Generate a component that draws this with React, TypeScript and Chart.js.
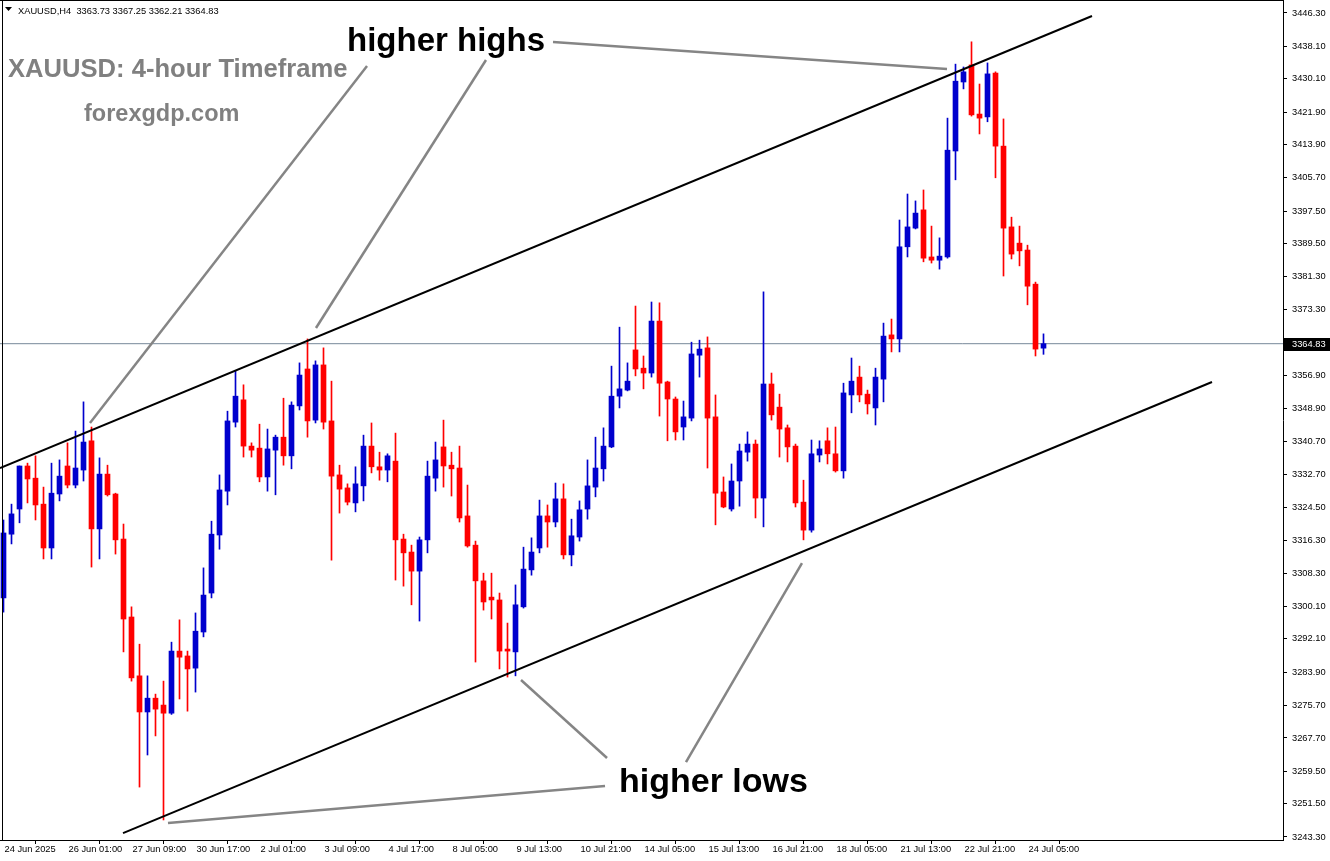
import { useEffect, useRef } from 'react';
import { Chart, registerables } from 'chart.js';

Chart.register(...registerables);

// ---- OHLC data (XAUUSD, H4) ----
const opens = [
  3302.2, 3317.9, 3324.1, 3334.7, 3331.7, 3325.3, 3314.5, 3327.8, 3334.7, 3330.0,
  3333.7, 3340.9, 3319.2, 3332.7, 3327.8, 3316.7, 3297.5, 3283.0, 3274.1, 3277.5,
  3275.8, 3273.8, 3289.1, 3287.9, 3284.9, 3293.8, 3303.4, 3317.7, 3328.5, 3345.5,
  3351.0, 3339.6, 3339.1, 3332.0, 3338.6, 3341.8, 3337.2, 3349.5, 3358.6, 3346.0,
  3359.6, 3345.8, 3332.5, 3329.3, 3325.6, 3329.8, 3339.6, 3334.5, 3333.7, 3335.9,
  3316.7, 3313.5, 3308.8, 3316.5, 3331.7, 3339.4, 3334.9, 3334.2, 3322.4, 3315.2,
  3306.4, 3302.4, 3301.7, 3289.6, 3288.9, 3300.0, 3309.1, 3314.5, 3322.4, 3320.9,
  3326.6, 3312.8, 3317.2, 3324.1, 3329.5, 3334.0, 3339.4, 3351.9, 3353.4, 3363.3,
  3358.8, 3357.6, 3370.4, 3355.4, 3351.2, 3344.3, 3346.5, 3362.0, 3363.8, 3346.8,
  3328.3, 3324.1, 3331.0, 3338.1, 3340.1, 3326.8, 3354.9, 3349.2, 3344.1, 3339.6,
  3325.8, 3318.9, 3337.4, 3340.9, 3337.7, 3333.5, 3352.2, 3356.6, 3352.4, 3349.0,
  3356.1, 3367.0, 3366.0, 3388.7, 3393.3, 3397.8, 3386.2, 3385.4, 3386.2, 3412.3,
  3429.3, 3433.5, 3421.4, 3420.7, 3431.5, 3413.5, 3393.6, 3389.6, 3387.9, 3379.5,
  3363.73,
];
const highs = [
  3321.4, 3325.3, 3334.7, 3335.4, 3337.2, 3329.5, 3335.4, 3336.2, 3340.4, 3343.3,
  3350.5, 3344.3, 3336.7, 3334.9, 3328.0, 3320.4, 3300.0, 3290.8, 3283.0, 3278.5,
  3281.7, 3291.3, 3296.8, 3289.1, 3298.5, 3309.6, 3321.1, 3332.5, 3348.2, 3358.1,
  3354.7, 3340.4, 3345.0, 3343.8, 3342.3, 3351.4, 3350.5, 3360.1, 3366.0, 3360.6,
  3363.8, 3355.6, 3334.9, 3330.3, 3334.5, 3342.3, 3345.3, 3338.1, 3337.7, 3342.8,
  3317.9, 3315.2, 3317.2, 3335.9, 3340.6, 3346.0, 3338.1, 3339.6, 3330.0, 3316.2,
  3308.3, 3308.3, 3303.4, 3296.0, 3305.4, 3314.7, 3317.0, 3326.3, 3325.1, 3330.5,
  3330.3, 3321.6, 3326.1, 3336.2, 3341.8, 3344.1, 3359.3, 3368.9, 3360.1, 3374.1,
  3361.8, 3375.1, 3374.9, 3355.6, 3351.7, 3350.7, 3365.2, 3365.7, 3366.5, 3352.2,
  3332.0, 3335.2, 3340.1, 3343.1, 3341.1, 3377.6, 3357.6, 3352.4, 3344.8, 3340.1,
  3331.2, 3341.1, 3340.9, 3344.1, 3344.3, 3355.1, 3361.3, 3359.3, 3353.4, 3358.8,
  3369.9, 3370.9, 3395.3, 3401.7, 3400.0, 3402.7, 3393.8, 3390.9, 3420.4, 3433.7,
  3433.0, 3439.2, 3428.8, 3434.0, 3431.8, 3420.2, 3396.0, 3393.8, 3389.1, 3380.0,
  3367.25,
];
const lows = [
  3298.7, 3315.5, 3320.7, 3325.6, 3321.4, 3311.8, 3311.8, 3326.1, 3329.3, 3329.3,
  3331.0, 3309.8, 3311.8, 3327.3, 3313.0, 3288.9, 3281.7, 3255.6, 3263.5, 3268.2,
  3247.5, 3273.5, 3277.3, 3274.3, 3279.0, 3292.6, 3302.2, 3314.2, 3325.1, 3344.3,
  3336.9, 3336.9, 3330.8, 3328.5, 3327.6, 3334.9, 3334.0, 3348.5, 3341.8, 3345.3,
  3343.8, 3311.5, 3323.1, 3325.1, 3323.4, 3326.1, 3333.0, 3331.2, 3330.8, 3306.6,
  3305.1, 3300.5, 3296.5, 3313.3, 3328.5, 3329.5, 3327.3, 3320.9, 3314.7, 3286.4,
  3299.2, 3297.0, 3284.7, 3282.7, 3283.0, 3299.7, 3307.8, 3313.3, 3314.7, 3319.7,
  3311.8, 3310.1, 3316.2, 3321.6, 3327.1, 3331.0, 3339.2, 3349.0, 3353.2, 3356.9,
  3353.7, 3356.6, 3347.0, 3340.9, 3341.1, 3341.1, 3345.8, 3356.6, 3334.2, 3320.2,
  3324.4, 3323.6, 3324.8, 3335.9, 3321.9, 3319.7, 3346.0, 3336.9, 3335.7, 3324.6,
  3316.5, 3318.4, 3335.7, 3335.2, 3333.2, 3331.7, 3347.8, 3350.5, 3347.5, 3344.8,
  3350.5, 3362.8, 3362.8, 3386.2, 3393.1, 3385.0, 3384.7, 3383.2, 3385.9, 3405.2,
  3427.6, 3420.9, 3416.5, 3419.5, 3405.7, 3381.5, 3385.7, 3384.0, 3374.4, 3361.8,
  3362.21,
];
const closes = [
  3318.2, 3322.9, 3334.7, 3331.5, 3325.1, 3314.5, 3328.0, 3332.2, 3330.0, 3334.2,
  3340.6, 3319.2, 3332.7, 3327.6, 3316.5, 3297.0, 3282.5, 3274.1, 3277.5, 3274.8,
  3273.8, 3289.1, 3287.6, 3284.7, 3294.0, 3302.9, 3317.9, 3328.8, 3345.8, 3351.9,
  3339.6, 3338.6, 3332.0, 3338.9, 3341.8, 3337.2, 3349.7, 3357.1, 3345.8, 3359.6,
  3345.5, 3332.2, 3329.0, 3325.8, 3330.3, 3339.6, 3334.5, 3333.7, 3337.2, 3316.5,
  3313.3, 3308.8, 3316.5, 3332.2, 3336.2, 3334.7, 3334.0, 3321.9, 3315.0, 3306.4,
  3301.2, 3301.7, 3289.1, 3289.1, 3300.5, 3309.3, 3313.5, 3322.4, 3320.9, 3326.6,
  3312.8, 3317.5, 3323.9, 3329.8, 3334.2, 3339.6, 3351.9, 3353.7, 3355.6, 3358.6,
  3357.6, 3370.4, 3355.1, 3351.2, 3343.1, 3346.8, 3362.3, 3363.5, 3346.5, 3328.0,
  3324.6, 3331.0, 3338.4, 3340.1, 3326.8, 3354.9, 3347.3, 3343.8, 3339.4, 3325.6,
  3318.9, 3337.7, 3338.9, 3337.7, 3333.5, 3352.7, 3355.6, 3352.2, 3350.0, 3356.6,
  3366.7, 3366.0, 3388.7, 3393.6, 3397.0, 3385.9, 3385.4, 3386.4, 3412.5, 3429.5,
  3431.8, 3421.2, 3420.4, 3431.3, 3413.5, 3393.3, 3386.9, 3387.7, 3379.0, 3363.5,
  3364.83,
];

const lastPrice = 3364.83;
const headerText = 'XAUUSD,H4  3363.73 3367.25 3362.21 3364.83';

// ---- axes ----
const yTickValues = [
  3446.3, 3438.1, 3430.1, 3421.9, 3413.9, 3405.7, 3397.5, 3389.5, 3381.3, 3373.3,
  3356.9, 3348.9, 3340.7, 3332.7, 3324.5, 3316.3, 3308.3, 3300.1, 3292.1, 3283.9,
  3275.7, 3267.7, 3259.5, 3251.5, 3243.3,
];
const xTickIndex = [0, 8, 16, 24, 32, 40, 48, 56, 64, 72, 80, 88, 96, 104, 112, 120, 128];
const xTickLabels = [
  '24 Jun 2025', '26 Jun 01:00', '27 Jun 09:00', '30 Jun 17:00', '2 Jul 01:00', '3 Jul 09:00',
  '4 Jul 17:00', '8 Jul 05:00', '9 Jul 13:00', '10 Jul 21:00', '14 Jul 05:00', '15 Jul 13:00',
  '16 Jul 21:00', '18 Jul 05:00', '21 Jul 13:00', '22 Jul 21:00', '24 Jul 05:00',
];

// ---- drawn trend lines: [bar index, price] ----
const channelUpper = [[-0.4375, 3334.2], [136.06, 3445.56]];
const channelLower = [[14.94, 3244.27], [151.06, 3355.39]];
const pointerLines = [
  [[45.44, 3433.24], [10.81, 3345.29]],
  [[60.31, 3434.72], [39.06, 3368.69]],
  [[68.69, 3439.16], [117.94, 3432.5]],
  [[75.44, 3262.75], [64.69, 3281.97]],
  [[85.31, 3261.77], [99.81, 3310.79]],
  [[75.19, 3255.85], [20.56, 3246.74]],
];

const X_MIN = -0.4375;
const X_MAX = 159.9375;
const Y_MIN = 3242.56;
const Y_MAX = 3449.5;

const BULL = '#0000cd';
const BEAR = '#ff0000';

const AXIS_FONT = { family: "'Liberation Sans', Arial, sans-serif", size: 9.3 };

export default function App() {
  const ref = useRef<HTMLCanvasElement>(null);

  useEffect(() => {
    const axisFont = AXIS_FONT;
    const idx = opens.map((_, i) => i);
    const colors = idx.map((i) => (closes[i] >= opens[i] ? BULL : BEAR));
    const toPts = (arr: number[][]) => arr.map((p) => ({ x: p[0], y: p[1] }));

    const lineDs = (pts: number[][], color: string, width: number, order: number) => ({
      type: 'line' as const,
      data: toPts(pts),
      borderColor: color,
      borderWidth: width,
      pointRadius: 0,
      fill: false,
      tension: 0,
      order,
    });

    const overlay = {
      id: 'overlay',
      afterDraw(chart: any) {
        const ctx = chart.ctx as CanvasRenderingContext2D;
        const area = chart.chartArea;
        const ys = chart.scales.y;
        ctx.save();
        // frame
        ctx.fillStyle = '#000';
        ctx.fillRect(2, 0, 1, area.bottom);
        ctx.fillRect(0, 0, area.right, 1);

        // header
        ctx.beginPath();
        ctx.moveTo(5, 7);
        ctx.lineTo(12, 7);
        ctx.lineTo(8.5, 11);
        ctx.closePath();
        ctx.fill();
        ctx.font = `${axisFont.size}px ${axisFont.family}`;
        ctx.textBaseline = 'alphabetic';
        ctx.textAlign = 'left';
        ctx.fillText(headerText, 18, 14);

        // annotation texts
        const big = "'Liberation Sans', Arial, sans-serif";
        ctx.fillStyle = '#000';
        ctx.font = `bold 33px ${big}`;
        ctx.fillText('higher highs', 347, 51);
        ctx.font = `bold 34px ${big}`;
        ctx.fillText('higher lows', 619, 792);
        ctx.fillStyle = '#808080';
        ctx.font = `bold 25.6px ${big}`;
        ctx.fillText('XAUUSD: 4-hour Timeframe', 8, 77);
        ctx.font = `bold 23.5px ${big}`;
        ctx.fillText('forexgdp.com', 84, 121);

        // last price label
        const py = Math.round(ys.getPixelForValue(lastPrice));
        ctx.fillStyle = '#000';
        ctx.fillRect(area.right + 1, py - 6, chart.width - area.right - 1, 13);
        ctx.fillRect(area.right, py, 4, 1);
        ctx.fillStyle = '#fff';
        ctx.font = `${axisFont.size}px ${axisFont.family}`;
        ctx.textBaseline = 'middle';
        ctx.fillText(lastPrice.toFixed(2), area.right + 9, py + 0.5);
        ctx.restore();
      },
    };

    const chart = new Chart(ref.current!, {
      type: 'bar',
      data: {
        datasets: [
          {
            type: 'bar',
            label: 'body',
            data: idx.map((i) => ({ x: i, y: [opens[i], closes[i]] })) as any,
            backgroundColor: colors,
            borderWidth: 0,
            barThickness: 5,
            minBarLength: 1,
            grouped: false,
            order: 2,
          },
          {
            type: 'bar',
            label: 'wick',
            data: idx.map((i) => ({ x: i, y: [lows[i], highs[i]] })) as any,
            backgroundColor: colors,
            borderWidth: 0,
            barThickness: 1,
            minBarLength: 1,
            grouped: false,
            order: 3,
          },
          lineDs([[X_MIN, lastPrice], [X_MAX, lastPrice]], '#778899', 1, 4) as any,
          lineDs(channelUpper, '#000', 2, 1) as any,
          lineDs(channelLower, '#000', 2, 1) as any,
          ...pointerLines.map((l) => lineDs(l, '#858585', 2.5, 0) as any),
        ],
      },
      options: {
        responsive: false,
        animation: false,
        events: [],
        layout: { padding: 0 },
        plugins: { legend: { display: false }, tooltip: { enabled: false } },
        scales: {
          x: {
            type: 'linear',
            position: 'bottom',
            min: X_MIN,
            max: X_MAX,
            offset: false,
            grid: { display: true, drawOnChartArea: false, drawTicks: true, tickLength: 4, tickColor: '#000', color: '#000' },
            border: { display: true, color: '#000', width: 1 },
            ticks: {
              autoSkip: false,
              maxRotation: 0,
              minRotation: 0,
              align: 'start',
              labelOffset: 1,
              padding: 0,
              color: '#000',
              font: { family: axisFont.family, size: axisFont.size },
              callback: (_v: any, i: number) => xTickLabels[i],
            },
            afterBuildTicks: (s: any) => {
              s.ticks = xTickIndex.map((v) => ({ value: v }));
            },
            afterFit: (s: any) => {
              s.height = 21;
              s.paddingLeft = 0;
              s.paddingRight = 0;
            },
          },
          y: {
            type: 'linear',
            position: 'right',
            min: Y_MIN,
            max: Y_MAX,
            grid: { display: true, drawOnChartArea: false, drawTicks: true, tickLength: 4, tickColor: '#000', color: '#000' },
            border: { display: true, color: '#000', width: 1 },
            ticks: {
              padding: 5,
              color: '#000',
              font: { family: axisFont.family, size: axisFont.size },
              callback: (v: any) => Number(v).toFixed(2),
            },
            afterBuildTicks: (s: any) => {
              s.ticks = yTickValues.map((v) => ({ value: v }));
            },
            afterFit: (s: any) => {
              s.width = 47;
              s.paddingTop = 0;
              s.paddingBottom = 0;
            },
          },
        },
      } as any,
      plugins: [overlay],
    });
    return () => chart.destroy();
  }, []);

  return (
    <div style={{ width: 1330, height: 861, background: '#fff' }}>
      <style>{'body{margin:0;background:#fff}'}</style>
      <canvas ref={ref} width={1330} height={861} style={{ display: 'block' }} />
    </div>
  );
}
